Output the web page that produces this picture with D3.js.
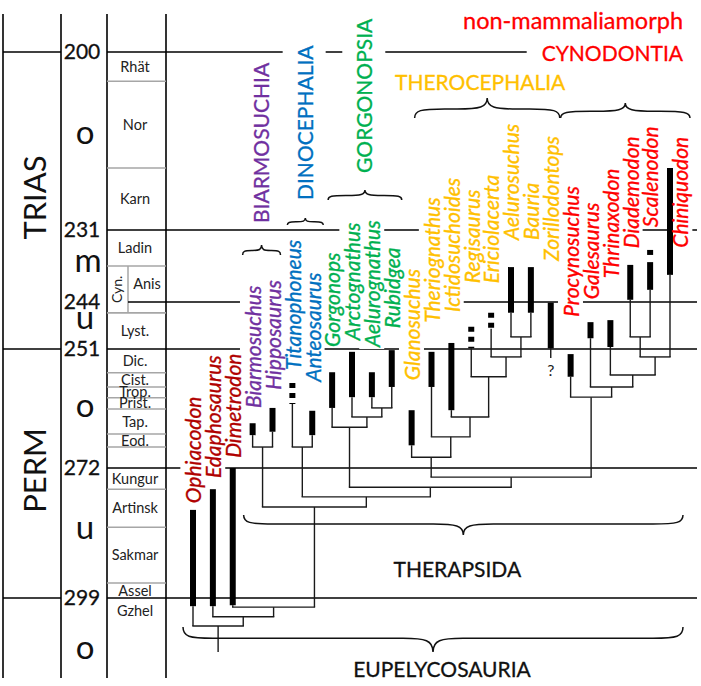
<!DOCTYPE html>
<html>
<head>
<meta charset="utf-8">
<script src="https://cdn.jsdelivr.net/npm/d3@7/dist/d3.min.js"></script>
<style>
  html,body{margin:0;padding:0;background:#fff;}
  svg{display:block;}
</style>
</head>
<body>
<svg id="chart" width="701" height="686"></svg>
<script>
// ================= DATA =================
// geological time (Ma) knots of the (non-linear) time axis
const ageKnots = [200, 231, 244, 251, 272, 299, 310];
const ageTicks = [200, 231, 244, 251, 272, 299];

const periodNames = ["TRIAS", "PERM"];
const periodFrom  = [200, 251];
const periodTo    = [251, 299];

const epochNames = ["o", "m", "u", "o", "u", "o"];
const epochAt    = [214.8, 237.3, 247.0, 261.8, 285.3, 310.2];

const stageNames = ["Rhät", "Nor", "Karn", "Ladin", "Anis", "", "Lyst.", "Dic.", "Cist.", "Trop.", "Prist.", "Tap.", "Eod.", "", "Kungur", "Artinsk", "Sakmar", "Assel", "Gzhel"];
const stageFrom  = [200, 205.1, 220.2, 231, 237.5, 244, 245.6, 251, 255.2, 257.7, 259.6, 261.6, 266.0, 268.3, 272, 276.4, 284.3, 295.9, 299];
const stageTo    = [205.1, 220.2, 231, 237.5, 244, 245.6, 251, 255.2, 257.7, 259.6, 261.6, 266.0, 268.3, 272, 276.4, 284.3, 295.9, 299, 304.4];
const subStageNames = ["Cyn."];
const subStageFrom  = [237.5];
const subStageTo    = [245.6];

const taxa = ["Ophiacodon", "Edaphosaurus", "Dimetrodon", "Biarmosuchus", "Hipposaurus", "Titanophoneus", "Anteosaurus",
  "Gorgonops", "Arctognathus", "Aelurognathus", "Rubidgea", "Glanosuchus", "Theriognathus", "Ictidosuchoides",
  "Regisaurus", "Ericiolacerta", "Aelurosuchus", "Bauria", "Zorillodontops", "Procynosuchus", "Galesaurus",
  "Thrinaxodon", "Diademodon", "Scalenodon", "Chiniquodon"];
const taxonGroup = ["pel", "pel", "pel", "bia", "bia", "din", "din", "gor", "gor", "gor", "gor",
  "the", "the", "the", "the", "the", "the", "the", "the", "cyn", "cyn", "cyn", "cyn", "cyn", "cyn"];
// known stratigraphic ranges (Ma)
const rangeYoung = [280.7, 276.4, 272.0, 264.1, 261.4, null, 261.9, 255.1, 251.5, 255.1, 251.2, 261.8, 251.5, 250.1,
  null, null, 237.7, 237.7, 244.1, 251.9, 247.0, 246.7, 237.3, 236.8, 220.2];
const rangeOld   = [300.7, 300.7, 300.5, 266.2, 265.6, null, 266.2, 261.4, 259.5, 259.5, 257.7, 268.0, 257.7, 261.8,
  null, null, 245.6, 245.6, 250.9, 255.9, 249.4, 250.7, 243.6, 241.8, 239.1];
// uncertain (dotted) ranges (Ma)
const uncertainYoung = [null, null, null, null, null, 257.0, null, null, null, null, null, null, null, null,
  247.7, 245.6, null, null, null, null, null, null, null, 234.6, null];
const uncertainOld   = [null, null, null, null, null, 260.7, null, null, null, null, null, null, null, null,
  250.9, 248.0, null, null, null, null, null, null, null, 235.7, null];
// age at which each taxon name starts
const labelStart = [279.3, 274.1, 270.2, 261.4, 258.2, 254.7, 256.8, 250.7, 249.7, 250.7, 247.9, 256.5, 247.1, 245.5,
  240.6, 240.6, 232.8, 232.8, 236.6, 246.2, 243.5, 239.7, 234.3, 230.5, 234.2];

// cladogram
const cladeNames = ["Eupelycosauria", "nEd", "Sphenacodontia", "Therapsida", "nDino", "Theriodontia", "Eutheriodontia",
  "Biarmosuchia", "Dinocephalia", "Gorgonopsia", "nArc", "nAR", "Therocephalia", "nTher", "nIct", "nReg", "nEr", "nAB",
  "Cynodontia", "nGal", "nThr", "nChin", "nDS"];
const cladeChildren = [
  ["Ophiacodon", "nEd"], ["Edaphosaurus", "Sphenacodontia"], ["Dimetrodon", "Therapsida"], ["Biarmosuchia", "nDino"],
  ["Dinocephalia", "Theriodontia"], ["Gorgonopsia", "Eutheriodontia"], ["Therocephalia", "Cynodontia"],
  ["Biarmosuchus", "Hipposaurus"], ["Titanophoneus", "Anteosaurus"], ["Gorgonops", "nArc"], ["Arctognathus", "nAR"],
  ["Aelurognathus", "Rubidgea"], ["Glanosuchus", "nTher"], ["Theriognathus", "nIct"], ["Ictidosuchoides", "nReg"],
  ["Regisaurus", "nEr"], ["Ericiolacerta", "nAB"], ["Aelurosuchus", "Bauria"], ["Procynosuchus", "nGal"],
  ["Galesaurus", "nThr"], ["Thrinaxodon", "nChin"], ["nDS", "Chiniquodon"], ["Diademodon", "Scalenodon"]];
const cladeAge = [304.8, 302.9, 300.9, 280.1, 278.0, 276.0, 273.9, 268.3, 268.3, 264.8, 263.0, 261.4, 270.1, 266.5,
  263.0, 255.9, 252.4, 249.2, 259.5, 257.7, 255.6, 252.4, 249.2];
const rootStemTo = 310.2;
const unplacedTaxa = ["Zorillodontops"];
const unplacedStemTo = [252.6];
const unplacedMark = ["?"];
const unplacedMarkAt = [254.7];

const groupKeys = ["bia", "din", "gor", "the", "cyn"];
const groupTitles = ["BIARMOSUCHIA", "DINOCEPHALIA", "GORGONOPSIA", "THEROCEPHALIA", "CYNODONTIA"];
const cynoSubtitle = "non-mammaliamorph";
const higherTitles = ["THERAPSIDA", "EUPELYCOSAURIA"];
const higherFirst = ["Biarmosuchus", "Ophiacodon"];
const higherLast = ["Chiniquodon", "Chiniquodon"];

// ================= LAYOUT / STYLE =================
const FONT = "Lato, 'Open Sans', sans-serif";
const COLORS = {pel: "#B00000", bia: "#7030A0", din: "#0070C0", gor: "#00B050", the: "#FFC000", cyn: "#FF0000"};
const colX = [3, 61, 107, 166];
const subX = 128;
const chartRight = 697;
const topY = 14, bottomY = 678;

const svg = d3.select("#chart");
const y = d3.scaleLinear().domain(ageKnots).range([52, 230, 302, 349, 468, 598, 651]);
const x = d3.scalePoint().domain(taxa).range([193, 670]);

const gLines = svg.append("g");
const gMask = svg.append("g");
const gTree = svg.append("g");
const gText = svg.append("g");

function addText(opts) {
  const {px, py, rot, text, size, color, italic, anchor, dy, mask, bold} = opts;
  const tr = `translate(${px},${py})` + (rot ? " rotate(-90)" : "");
  const g = gText.append("g").attr("transform", tr);
  const t = g.append("text")
    .attr("text-anchor", anchor || "start")
    .attr("dy", dy === undefined ? "0.35em" : dy)
    .style("font-family", FONT)
    .style("font-size", size + "px")
    .style("font-style", italic ? "italic" : "normal")
    .attr("fill", color || "#000")
    .text(text);
  if (bold) t.attr("stroke", color || "#000").attr("stroke-width", bold);
  if (mask) {
    const bb = t.node().getBBox();
    gMask.append("rect").attr("transform", tr)
      .attr("x", bb.x - mask[0]).attr("y", bb.y - mask[1])
      .attr("width", bb.width + 2 * mask[0]).attr("height", bb.height + 2 * mask[1])
      .attr("fill", "#fff");
  }
  return t;
}

function line(g, x1, y1, x2, y2, color, w) {
  return g.append("line").attr("x1", x1).attr("y1", y1).attr("x2", x2).attr("y2", y2)
    .attr("stroke", color).attr("stroke-width", w);
}

// ---------- time columns ----------
colX.forEach(cx => line(gLines, cx, topY, cx, bottomY, "#000", 1.6));
const periodBounds = Array.from(new Set(periodFrom.concat(periodTo)));
periodBounds.forEach(a => line(gLines, colX[0], y(a), colX[1], y(a), "#000", 1.6));

const inSub = a => subStageFrom.some((f, i) => a > f && a < subStageTo[i]);
const inSubRange = (f, t) => subStageFrom.some((sf, i) => f >= sf && t <= subStageTo[i]);

// minor stage boundaries (grey)
stageNames.forEach((n, i) => {
  const f = stageFrom[i];
  const left = inSubRange(stageFrom[i], stageTo[i]) ? subX : colX[2];
  if (!ageTicks.includes(f)) line(gLines, left, y(f), colX[3], y(f), "#A6A6A6", 1.5);
});
subStageNames.forEach((n, i) => {
  line(gLines, colX[2], y(subStageFrom[i]), subX, y(subStageFrom[i]), "#A6A6A6", 1.5);
  line(gLines, subX, y(subStageFrom[i]), subX, y(subStageTo[i]), "#A6A6A6", 1.5);
  if (!ageTicks.includes(subStageTo[i])) line(gLines, colX[2], y(subStageTo[i]), colX[3], y(subStageTo[i]), "#A6A6A6", 1.5);
});
// major boundaries across the chart
ageTicks.forEach(a => line(gLines, inSub(a) ? subX : colX[2], y(a), chartRight, y(a), "#000", 1.6));

// stage names
stageNames.forEach((n, i) => {
  if (!n) return;
  const sub = inSubRange(stageFrom[i], stageTo[i]);
  addText({px: sub ? (subX + colX[3]) / 2 : 135, py: (y(stageFrom[i]) + y(stageTo[i])) / 2,
    text: n, size: 14.5, color: "#222", anchor: "middle"});
});
subStageNames.forEach((n, i) => {
  addText({px: (colX[2] + subX) / 2, py: (y(subStageFrom[i]) + y(subStageTo[i])) / 2, rot: true,
    text: n, size: 14, color: "#222", anchor: "middle"});
});
// age numbers
ageTicks.forEach(a => addText({px: 82, py: y(a), text: String(a), size: 21, anchor: "middle", color: "#111", bold: 0.3}));
// epochs
epochNames.forEach((n, i) => addText({px: n === "m" ? 88 : 85, py: y(epochAt[i]), text: n, size: 33, anchor: "middle", dy: "0.2em", color: "#111"}));
// periods
periodNames.forEach((n, i) => addText({px: 35, py: (y(periodFrom[i]) + y(periodTo[i])) / 2 - 3, rot: true,
  text: n, size: 31, anchor: "middle", color: "#111"}));

// ---------- cladogram ----------
const cladeIdx = new Map(cladeNames.map((n, i) => [n, i]));
const taxonIdx = new Map(taxa.map((n, i) => [n, i]));
function nodeX(name) {
  if (taxonIdx.has(name)) return x(name);
  const ch = cladeChildren[cladeIdx.get(name)];
  return d3.mean(ch, nodeX);
}
function nodeTop(name) { // age where the branch starts (top end)
  if (taxonIdx.has(name)) {
    const i = taxonIdx.get(name);
    return d3.max([rangeOld[i], uncertainOld[i]].filter(v => v != null));
  }
  return cladeAge[cladeIdx.get(name)];
}
const TREE = "#1a1a1a", TW = 1.4;
cladeNames.forEach((n, i) => {
  const ch = cladeChildren[i];
  const yy = y(cladeAge[i]);
  line(gTree, nodeX(ch[0]), yy, nodeX(ch[1]), yy, TREE, TW).attr("stroke-linecap", "square");
  ch.forEach(c => line(gTree, nodeX(c), y(nodeTop(c)), nodeX(c), yy, TREE, TW));
});
line(gTree, nodeX(cladeNames[0]), y(cladeAge[0]), nodeX(cladeNames[0]), y(rootStemTo), TREE, TW);
unplacedTaxa.forEach((n, i) => {
  line(gTree, x(n), y(nodeTop(n)), x(n), y(unplacedStemTo[i]), TREE, TW);
  addText({px: x(n), py: y(unplacedMarkAt[i]), text: unplacedMark[i], size: 16, anchor: "middle", color: "#222"});
});
// range bars
taxa.forEach((n, i) => {
  if (rangeYoung[i] != null)
    line(gTree, x(n), y(rangeYoung[i]), x(n), y(rangeOld[i]), "#000", 6);
  if (uncertainYoung[i] != null)
    line(gTree, x(n), y(uncertainYoung[i]), x(n), y(uncertainOld[i]), "#000", 6).attr("stroke-dasharray", "5,5");
});
// taxon names
taxa.forEach((n, i) => {
  const overlaps = rangeYoung[i] != null && labelStart[i] > rangeYoung[i];
  addText({px: x(n) + (overlaps ? 11 : 1), py: y(labelStart[i]), rot: true, text: n, size: 21, italic: true,
    color: COLORS[taxonGroup[i]], mask: [1, 0], bold: 0.35});
});

// ---------- braces & group names ----------
function bracePath(x1, x2, y0, depth, dir) {
  const len = x2 - x1, xm = (x1 + x2) / 2, r = Math.min(30, len * 0.24);
  const b = depth * 0.45, s = dir;
  const yb = y0 + s * b, yt = y0 + s * depth, yc = y0 + s * (b + (depth - b) * 0.15);
  return `M${x1},${y0} C${x1},${y0 + s * b * 0.85} ${x1 + r * 0.2},${yb} ${x1 + r},${yb} L${xm - r},${yb} ` +
    `C${xm - r * 0.25},${yb} ${xm},${yc} ${xm},${yt} C${xm},${yc} ${xm + r * 0.25},${yb} ${xm + r},${yb} ` +
    `L${x2 - r},${yb} C${x2 - r * 0.2},${yb} ${x2},${y0 + s * b * 0.85} ${x2},${y0}`;
}
function brace(x1, x2, y0, depth, dir) {
  gTree.append("path").attr("d", bracePath(x1, x2, y0, depth, dir))
    .attr("fill", "none").attr("stroke", "#111").attr("stroke-width", 1.5);
}
const braceLayout = {
  bia: {pad: [-10, 8], base: 255, depth: 10, gap: 22},
  din: {pad: [-5, 11], base: 225, depth: 7, gap: 18},
  gor: {pad: [-4, 10], base: 200, depth: 10, gap: 17},
  the: {pad: [3, 9], base: 118, depth: 20},
  cyn: {pad: [-10, 20], base: 118, depth: 15}
};
groupKeys.forEach((k, gi) => {
  const members = taxa.filter((t, i) => taxonGroup[i] === k);
  const L = braceLayout[k];
  const x1 = x(members[0]) + L.pad[0], x2 = x(members[members.length - 1]) + L.pad[1];
  brace(x1, x2, L.base, L.depth, -1);
  const xm = (x1 + x2) / 2, tip = L.base - L.depth;
  if (k === "the") {
    addText({px: xm - 7, py: 90, text: groupTitles[gi], size: 21, anchor: "middle", dy: 0, color: COLORS[k], bold: 0.3});
  } else if (k === "cyn") {
    addText({px: 683, py: 61, text: groupTitles[gi], size: 21, anchor: "end", dy: 0, color: COLORS[k], mask: [15, 0], bold: 0.3});
    addText({px: 683, py: 29, text: cynoSubtitle, size: 23.5, anchor: "end", dy: 0, color: COLORS[k], bold: 0.3});
  } else {
    addText({px: xm, py: tip - L.gap, rot: true, text: groupTitles[gi], size: 21, color: COLORS[k], mask: [2, 9], bold: 0.3});
  }
});
const higherLayout = [
  {pad: [-9, 13], base: 515, depth: 20, textDx: -6, baseline: 577},
  {pad: [-10, 13], base: 627, depth: 25, textDx: 9, baseline: 677}
];
higherTitles.forEach((h, i) => {
  const L = higherLayout[i];
  const x1 = x(higherFirst[i]) + L.pad[0], x2 = x(higherLast[i]) + L.pad[1];
  brace(x1, x2, L.base, L.depth, 1);
  addText({px: (x1 + x2) / 2 + L.textDx, py: L.baseline, text: h, size: 21, anchor: "middle", dy: 0, color: "#111", bold: 0.3});
});
</script>
</body>
</html>
